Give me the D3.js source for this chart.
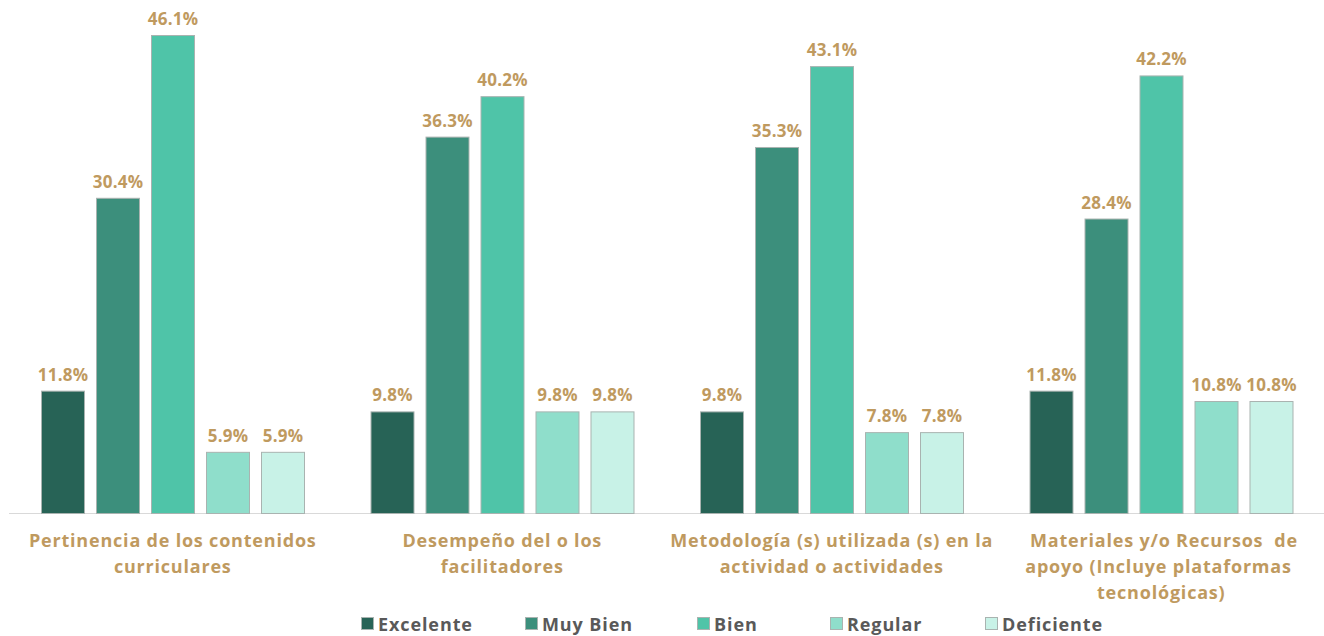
<!DOCTYPE html>
<html>
<head>
<meta charset="utf-8">
<title>Evaluación</title>
<style>
  body { margin: 0; background: #fff; }
  text { font-family: "Open Sans", "DejaVu Sans", sans-serif; font-weight: 700; white-space: pre; }
</style>
</head>
<body>
<script src="https://d3js.org/d3.v7.min.js"></script>
<script>

var categories = [
  ["Pertinencia de los contenidos", "curriculares"],
  ["Desempeño del o los", "facilitadores"],
  ["Metodología (s) utilizada (s) en la", "actividad o actividades"],
  [" Materiales y/o Recursos  de", "apoyo (Incluye plataformas ", "tecnológicas)"]
];
var series = ["Excelente", "Muy Bien", "Bien", "Regular", "Deficiente"];
var excelente  = [11.8, 9.8, 9.8, 11.8];
var muyBien    = [30.4, 36.3, 35.3, 28.4];
var bien       = [46.1, 40.2, 43.1, 42.2];
var regular    = [5.9, 9.8, 7.8, 10.8];
var deficiente = [5.9, 9.8, 7.8, 10.8];
var colors = ["#276356", "#3c8f7c", "#4fc4a8", "#8fdecb", "#c8f2e7"];

var values = [excelente, muyBien, bien, regular, deficiente];

var svg = d3.select("body").append("svg")
    .attr("width", 1324)
    .attr("height", 636);

var x0 = d3.scaleBand()
    .domain(d3.range(categories.length))
    .range([8, 1326])
    .paddingInner(0)
    .paddingOuter(0);

var x1 = d3.scaleBand()
    .domain(d3.range(series.length))
    .range([33, 297])   // inside each group
    .paddingInner(0.2)
    .paddingOuter(0);

var y = d3.scaleLinear()
    .domain([0, 46.1])
    .range([513, 35]);

// baseline
svg.append("line")
    .attr("x1", 9).attr("x2", 1324)
    .attr("y1", y(0) + 0.5).attr("y2", y(0) + 0.5)
    .attr("stroke", "#d9d9d9")
    .attr("stroke-width", 1);

var groups = svg.selectAll("g.grp")
    .data(categories)
    .enter().append("g")
    .attr("class", "grp")
    .attr("transform", function(d, i){ return "translate(" + x0(i) + ",0)"; });

groups.each(function(cat, ci){
  var g = d3.select(this);
  series.forEach(function(s, si){
    var v = values[si][ci];
    g.append("rect")
      .attr("x", x1(si) + 0.5)
      .attr("y", y(v) + 0.5)
      .attr("width", x1.bandwidth() - 1)
      .attr("height", y(0) - y(v))
      .attr("fill", colors[si])
      .attr("stroke", "#a9b3b0")
      .attr("stroke-width", 1);
    g.append("text")
      .attr("x", x1(si) + x1.bandwidth() / 2)
      .attr("y", y(v) - 10)
      .attr("text-anchor", "middle")
      .attr("font-size", 17)
      .attr("letter-spacing", 0.2)
      .attr("fill", "#bf9a5f")
      .text(v.toFixed(1) + "%");
  });
  var t = g.append("text")
    .attr("text-anchor", "middle")
    .attr("font-size", 18)
    .attr("letter-spacing", 0.8)
    .attr("fill", "#bf9a5f");
  cat.forEach(function(line, li){
    t.append("tspan")
      .attr("x", x0.bandwidth() / 2)
      .attr("y", 547 + li * 26)
      .text(line);
  });
});

// legend
var legendX = [361, 525, 697, 830, 985];
var legend = svg.selectAll("g.leg")
    .data(series)
    .enter().append("g")
    .attr("class", "leg")
    .attr("transform", function(d, i){ return "translate(" + legendX[i] + ",624)"; });

legend.append("rect")
    .attr("x", 0.5).attr("y", -6.5)
    .attr("width", 12).attr("height", 12)
    .attr("fill", function(d, i){ return colors[i]; })
    .attr("stroke", "#a9b3b0");

legend.append("text")
    .attr("x", 17)
    .attr("y", 6.5)
    .attr("font-size", 18)
    .attr("letter-spacing", 0.9)
    .attr("fill", "#595959")
    .text(function(d){ return d; });

</script>
</body>
</html>
